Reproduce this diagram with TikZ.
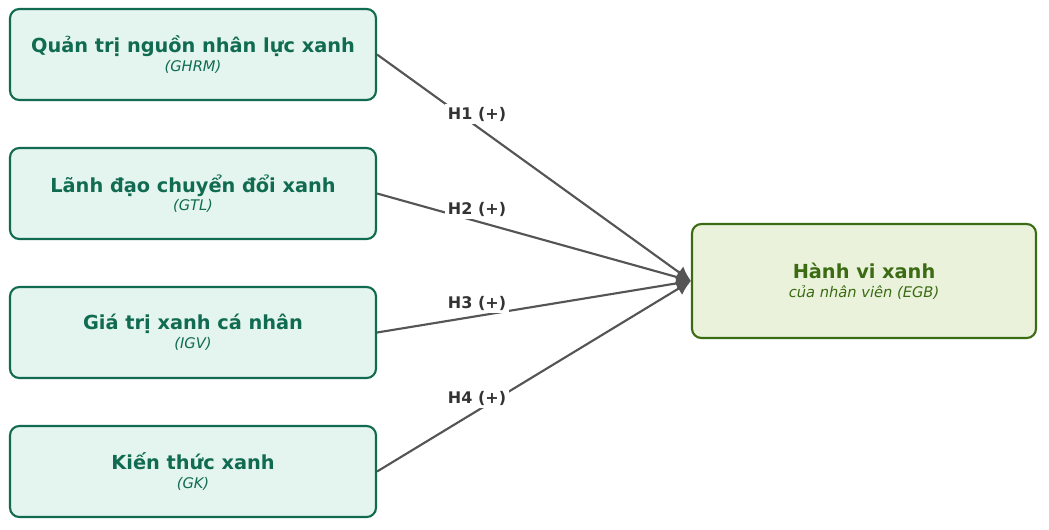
\documentclass[tikz,border=0pt]{standalone}
\usepackage{fontspec}
\setmainfont{DejaVu Sans}
\usetikzlibrary{arrows.meta}
\definecolor{lfill}{HTML}{E3F5EE}
\definecolor{ldraw}{HTML}{116B50}
\definecolor{rfill}{HTML}{EAF2DC}
\definecolor{rdraw}{HTML}{3B6B12}
\definecolor{arr}{HTML}{555555}
\begin{document}
\begin{tikzpicture}[x=0.75pt,y=-0.75pt,
 lbox/.style={draw=ldraw,fill=lfill,line width=1.6pt,rounded corners=7pt,minimum width=366*0.75pt,minimum height=91*0.75pt,align=center,text=ldraw},
 rbox/.style={draw=rdraw,fill=rfill,line width=1.6pt,rounded corners=7pt,minimum width=344*0.75pt,minimum height=114*0.75pt,align=center,text=rdraw},
 conn/.style={draw=arr,line width=1.6pt,-{Latex[length=11pt,width=11pt]}},
 lab/.style={fill=white,text=black!80,font=\bfseries\fontsize{12}{14}\selectfont,inner sep=2pt}]
\useasboundingbox (0,0) rectangle (1049,529);
\newcommand{\twoline}[2]{{\bfseries\fontsize{14.5}{18}\selectfont #1}\\[2pt]{\itshape\fontsize{11}{14}\selectfont #2}}
\node[lbox] (a) at (193,54.5) {\twoline{Quản trị nguồn nhân lực xanh}{(GHRM)}};
\node[lbox] (b) at (193,193.5) {\twoline{Lãnh đạo chuyển đổi xanh}{(GTL)}};
\node[lbox] (c) at (193,332.5) {\twoline{Giá trị xanh cá nhân}{(IGV)}};
\node[lbox] (d) at (193,471.5) {\twoline{Kiến thức xanh}{(GK)}};
\node[rbox] (e) at (864,281) {\twoline{Hành vi xanh}{của nhân viên (EGB)}};
\coordinate (t) at (691,281);
\draw[conn] (a.east) -- (t);
\draw[conn] (b.east) -- (t);
\draw[conn] (c.east) -- (t);
\draw[conn] (d.east) -- (t);
\node[lab] at (477,114) {H1 (+)};
\node[lab] at (477,209) {H2 (+)};
\node[lab] at (477,303) {H3 (+)};
\node[lab] at (477,398) {H4 (+)};
\end{tikzpicture}
\end{document}
